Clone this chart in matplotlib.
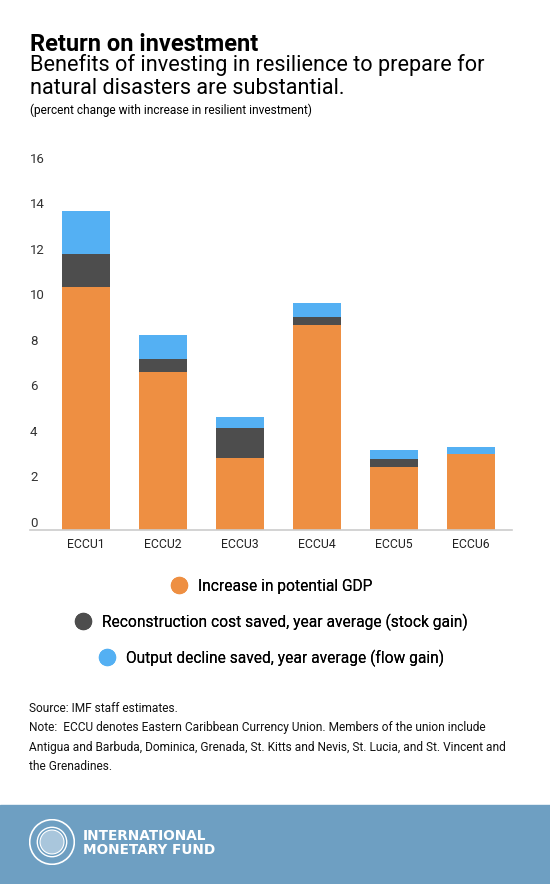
import matplotlib.pyplot as plt
from matplotlib.lines import Line2D
from matplotlib.patches import Circle, Rectangle
import numpy as np

plt.rcParams["font.family"] = ["Roboto", "DejaVu Sans"]

categories = ["ECCU1", "ECCU2", "ECCU3", "ECCU4", "ECCU5", "ECCU6"]
potential_gdp = [10.67, 6.95, 3.16, 9.0, 2.77, 3.34]
reconstruction_saved = [1.45, 0.57, 1.32, 0.35, 0.35, 0.0]
output_saved = [1.88, 1.05, 0.49, 0.61, 0.39, 0.30]
series_names = [
    "Increase in potential GDP",
    "Reconstruction cost saved, year average (stock gain)",
    "Output decline saved, year average (flow gain)",
]
yticks = [0, 2, 4, 6, 8, 10, 12, 14, 16]

orange = "#EE8F42"
dark = "#4D4D4D"
blue = "#54B0F3"
band = "#6E9FC2"

W, H = 550, 884


def fx(px):
    return px / W


def fy(py):
    return 1 - py / H


fig = plt.figure(figsize=(W / 100, H / 100), dpi=100)

# header text
fig.text(fx(30), fy(51), "Return on investment", fontsize=17, fontweight="bold",
         color="black", va="baseline")
fig.text(fx(30), fy(71), "Benefits of investing in resilience to prepare for",
         fontsize=15.6, color="black", va="baseline")
fig.text(fx(30), fy(94), "natural disasters are substantial.",
         fontsize=15.6, color="black", va="baseline")
fig.text(fx(30), fy(114), "(percent change with increase in resilient investment)",
         fontsize=8.6, color="black", va="baseline")

# chart
ax = fig.add_axes([fx(30), fy(530), fx(512) - fx(30), fy(165.6) - fy(530)])
x = np.arange(len(categories))
w = 0.623
b1 = np.array(potential_gdp)
b2 = b1 + np.array(reconstruction_saved)
ax.bar(x, potential_gdp, width=w, color=orange, label=series_names[0])
ax.bar(x, reconstruction_saved, width=w, bottom=b1, color=dark, label=series_names[1])
ax.bar(x, output_saved, width=w, bottom=b2, color=blue, label=series_names[2])

ax.set_xlim(-0.727, 5.532)
ax.set_ylim(0, 16)
ax.set_xticks(x)
ax.set_xticklabels(categories, fontsize=8.8, color="#222222")
ax.set_yticks(yticks)
ax.set_yticklabels([str(t) for t in yticks], fontsize=9.5, color="#333333",
                   ha="left", va="bottom")
ax.tick_params(axis="y", length=0, pad=0)
ax.tick_params(axis="x", length=0, pad=6)
for s in ["top", "right", "left"]:
    ax.spines[s].set_visible(False)
ax.spines["bottom"].set_color("#CCCCCC")
ax.spines["bottom"].set_linewidth(1.2)

# legend, one centred row per series
legend_rows = [586, 622, 658]
for name, col, ry in zip(series_names, [orange, dark, blue], legend_rows):
    h = Line2D([], [], marker="o", ls="", color=col, markersize=11.5)
    leg = fig.legend([h], [name], loc="center", bbox_to_anchor=(fx(271), fy(ry)),
                     frameon=False, fontsize=11.2, handletextpad=0.6,
                     borderpad=0, handlelength=1.2)
    fig.add_artist(leg)

# notes
notes = [
    "Source: IMF staff estimates.",
    "Note:  ECCU denotes Eastern Caribbean Currency Union. Members of the union include",
    "Antigua and Barbuda, Dominica, Grenada, St. Kitts and Nevis, St. Lucia, and St. Vincent and",
    "the Grenadines.",
]
for line, ny in zip(notes, [709, 728, 747, 766]):
    fig.text(fx(29), fy(ny), line, fontsize=8.6, color="#111111", va="center")

# footer band with logo
fig.patches.append(Rectangle((0, 0), 1, fy(805), transform=fig.transFigure,
                             color=band, zorder=-1))
lax = fig.add_axes([fx(29), fy(865), fx(46), fy(819) - fy(865)])
lax.set_xlim(-1, 1)
lax.set_ylim(-1, 1)
lax.set_aspect("equal")
lax.axis("off")
lax.add_patch(Circle((0, 0), 0.97, fill=False, ec="white", lw=1.2))
lax.add_patch(Circle((0, 0), 0.64, fill=False, ec="white", lw=1.0))
lax.add_patch(Circle((0, 0), 0.52, fc="#A9C6DC", ec="white", lw=0.8))
fig.text(fx(83), fy(836), "INTERNATIONAL", fontsize=9.8, fontweight="bold",
         color="white", va="center", family=["DejaVu Sans"])
fig.text(fx(83), fy(850), "MONETARY FUND", fontsize=9.8, fontweight="bold",
         color="white", va="center", family=["DejaVu Sans"])

fig.savefig("out.png", dpi=100)
